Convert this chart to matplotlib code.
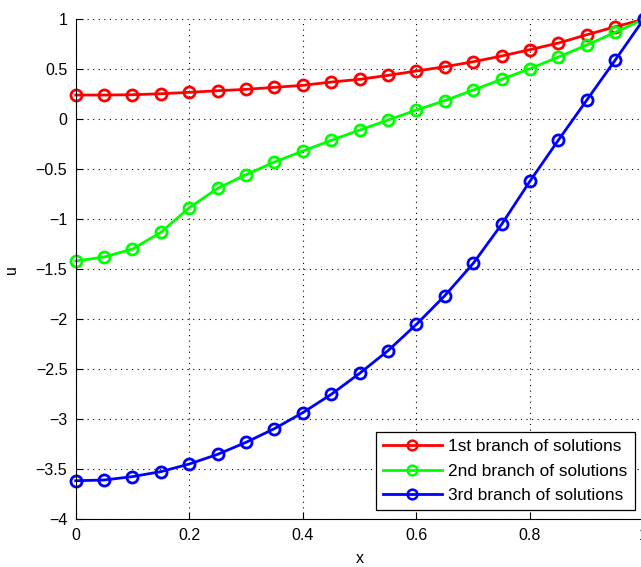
#! /usr/bin/env python3
# Three solution branches u(x), MATLAB-style line plot with open circles.

import matplotlib
matplotlib.use('Agg')
import matplotlib.pyplot as plt

x = [0.0, 0.05, 0.1, 0.15, 0.2, 0.25, 0.3, 0.35, 0.4, 0.45, 0.5,
     0.55, 0.6, 0.65, 0.7, 0.75, 0.8, 0.85, 0.9, 0.95, 1.0]

branch1 = [0.243, 0.243, 0.246, 0.256, 0.27, 0.286, 0.30, 0.32, 0.34, 0.373, 0.40,
           0.44, 0.483, 0.526, 0.576, 0.633, 0.697, 0.763, 0.846, 0.926, 1.0]
branch2 = [-1.417, -1.377, -1.297, -1.13, -0.884, -0.69, -0.553, -0.427, -0.317, -0.21, -0.107,
           -0.007, 0.093, 0.187, 0.293, 0.40, 0.507, 0.623, 0.743, 0.87, 1.0]
branch3 = [-3.614, -3.607, -3.573, -3.523, -3.447, -3.35, -3.23, -3.093, -2.933, -2.75, -2.54,
           -2.313, -2.05, -1.763, -1.44, -1.05, -0.617, -0.207, 0.193, 0.593, 1.0]

labels = ['1st branch of solutions', '2nd branch of solutions', '3rd branch of solutions']
colors = ['#ff0000', '#00ff00', '#0000ff']

xticks = [0, 0.2, 0.4, 0.6, 0.8, 1]
xticklabels = ['0', '0.2', '0.4', '0.6', '0.8', '1']
yticks = [1, 0.5, 0, -0.5, -1, -1.5, -2, -2.5, -3, -3.5, -4]
yticklabels = ['1', '0.5', '0', '\u22120.5', '\u22121', '\u22121.5', '\u22122',
               '\u22122.5', '\u22123', '\u22123.5', '\u22124']

plt.rcParams['font.family'] = ['Liberation Sans', 'DejaVu Sans']
plt.rcParams['font.size'] = 11.5

fig = plt.figure(figsize=(6.41, 5.67), dpi=100)
# the axes run a little past the right edge, as in the original
ax = fig.add_axes([0.1181, 0.0841, 0.886, 0.8818])

for y, lab, c in zip([branch1, branch2, branch3], labels, colors):
    ax.plot(x, y, '-o', color=c, linewidth=2, markersize=8,
            markerfacecolor='none', markeredgewidth=2, label=lab, clip_on=False)

ax.set_xlim(0, 1)
ax.set_ylim(-4, 1)
ax.set_xticks(xticks)
ax.set_xticklabels(xticklabels)
ax.set_yticks(yticks)
ax.set_yticklabels(yticklabels)
ax.tick_params(direction='in', length=5, width=0.8, pad=6)

ax.grid(True, linestyle=(0, (1, 4)), color='black', linewidth=0.8)
ax.set_axisbelow(True)

for spine in 'right', 'top':
    ax.spines[spine].set_visible(False)

ax.set_xlabel('x', labelpad=6)
ax.set_ylabel('u', labelpad=12)

leg = ax.legend(loc='lower right', bbox_to_anchor=(0.984, 0.018),
                fancybox=False, framealpha=1, edgecolor='black',
                borderpad=0.4, handlelength=3.4, handletextpad=0.4,
                labelspacing=0.55, borderaxespad=0, fontsize=12.4)
leg.get_frame().set_linewidth(0.9)
for h in leg.get_lines():
    h.set_markersize(7)
    h.set_markeredgewidth(1.8)

fig.savefig('out.png', dpi=100)
